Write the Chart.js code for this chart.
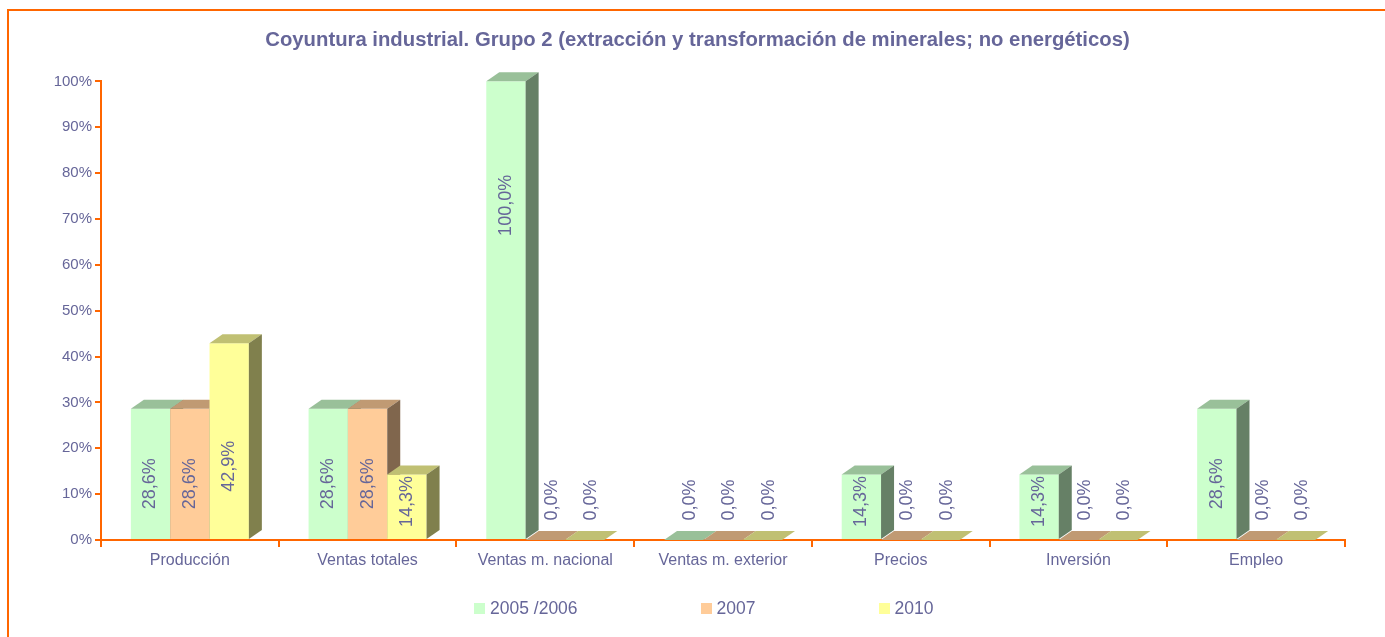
<!DOCTYPE html>
<html>
<head>
<meta charset="utf-8">
<script src="https://cdn.jsdelivr.net/npm/chart.js@4/dist/chart.umd.min.js"></script>
<style>
  body { margin: 0; background: #fff; overflow: hidden; }
  #wrap { position: relative; width: 1385px; height: 637px; }
  #legend { position: absolute; left: 474px; top: 598px; display: flex; gap: 123px;
    font: 17.5px "Liberation Sans", Arial, sans-serif; color: #666699; }
  #legend .item { display: flex; align-items: center; }
  #legend .box { width: 11px; height: 11px; margin-right: 5px; }
</style>
</head>
<body>
<div id="wrap">
  <canvas id="myChart" width="1385" height="637"></canvas>
  <div id="legend"></div>
</div>
<script>
const categories = ['Producción', 'Ventas totales', 'Ventas m. nacional', 'Ventas m. exterior', 'Precios', 'Inversión', 'Empleo']
const seriesNames = ['2005 /2006', '2007', '2010']
const values2005 = [28.6, 28.6, 100, 0, 14.3, 14.3, 28.6]
const values2007 = [28.6, 28.6, 0, 0, 0, 0, 0]
const values2010 = [42.9, 14.3, 0, 0, 0, 0, 0]
const yTicks = [0, 10, 20, 30, 40, 50, 60, 70, 80, 90, 100]

const frontColors = ['#CCFFCC', '#FFCC99', '#FFFF99']
const topColors = ['#99C099', '#C09A73', '#C0C073']
const sideColors = ['#668066', '#80664D', '#80804D']
const textColor = '#666699'
const orange = '#FF6600'
const fontFamily = '"Liberation Sans", Arial, sans-serif'
const depthX = 13
const depthY = 9

const fmt = v => v.toFixed(1).replace('.', ',') + '%'

function poly(ctx, pts, color) {
  ctx.beginPath()
  ctx.moveTo(pts[0][0], pts[0][1])
  for (let k = 1; k < pts.length; k++) ctx.lineTo(pts[k][0], pts[k][1])
  ctx.closePath()
  ctx.fillStyle = color
  ctx.fill()
}

// draws the bars as 3D blocks plus the rotated value labels
const bars3d = {
  id: 'bars3d',
  beforeDraw(chart) {
    const ctx = chart.ctx
    ctx.save()
    ctx.fillStyle = '#fff'
    ctx.fillRect(0, 0, chart.width, chart.height)
    ctx.strokeStyle = orange
    ctx.lineWidth = 2
    ctx.strokeRect(8, 10, 1500, 800)
    ctx.restore()
  },
  beforeDatasetDraw() {
    return false
  },
  afterDatasetsDraw(chart) {
    const ctx = chart.ctx
    const sets = chart.data.datasets
    ctx.save()
    for (let j = 0; j < chart.data.labels.length; j++) {
      sets.forEach((ds, i) => {
        const bar = chart.getDatasetMeta(i).data[j]
        const p = bar.getProps(['x', 'y', 'base', 'width'], true)
        const l = p.x - p.width / 2
        const r = p.x + p.width / 2
        if (p.base > p.y) {
          ctx.fillStyle = frontColors[i]
          ctx.fillRect(l, p.y, p.width, p.base - p.y)
        }
        poly(ctx, [[l, p.y], [r, p.y], [r + depthX, p.y - depthY], [l + depthX, p.y - depthY]], topColors[i])
        if (p.base > p.y) {
          poly(ctx, [[r, p.y], [r + depthX, p.y - depthY], [r + depthX, p.base - depthY], [r, p.base]], sideColors[i])
        }
      })
    }
    ctx.font = '18px ' + fontFamily
    ctx.fillStyle = textColor
    ctx.textAlign = 'center'
    ctx.textBaseline = 'middle'
    sets.forEach((ds, i) => {
      chart.getDatasetMeta(i).data.forEach((bar, j) => {
        const p = bar.getProps(['x', 'y', 'base'], true)
        const h = p.base - p.y
        const v = ds.data[j]
        let cx = p.x
        let cy
        if (v === 0) {
          cx = p.x + depthX / 2
          cy = p.base - 40
        } else {
          cy = Math.min(p.base - 20 - 0.27 * h, p.y + 124)
        }
        ctx.save()
        ctx.translate(cx, cy)
        ctx.rotate(-Math.PI / 2)
        ctx.fillText(fmt(v), 0, 0)
        ctx.restore()
      })
    })
    ctx.restore()
  },
  afterUpdate(chart) {
    const box = document.getElementById('legend')
    box.innerHTML = ''
    chart.data.datasets.forEach((ds, i) => {
      const item = document.createElement('div')
      item.className = 'item'
      const sw = document.createElement('span')
      sw.className = 'box'
      sw.style.background = frontColors[i]
      const tx = document.createElement('span')
      tx.textContent = ds.label
      item.appendChild(sw)
      item.appendChild(tx)
      box.appendChild(item)
    })
  }
}

const ctx = document.getElementById('myChart')

new Chart(ctx, {
  type: 'bar',
  data: {
    labels: categories,
    datasets: [
      { label: seriesNames[0], data: values2005, backgroundColor: frontColors[0] },
      { label: seriesNames[1], data: values2007, backgroundColor: frontColors[1] },
      { label: seriesNames[2], data: values2010, backgroundColor: frontColors[2] }
    ]
  },
  options: {
    responsive: false,
    animation: false,
    barPercentage: 1,
    categoryPercentage: 0.664,
    layout: { padding: { left: 50, right: 40, top: 0, bottom: 67 } },
    plugins: {
      legend: { display: false },
      tooltip: { enabled: false },
      title: {
        display: true,
        text: 'Coyuntura industrial. Grupo 2 (extracción y transformación de minerales; no energéticos)',
        color: textColor,
        font: { family: fontFamily, size: 20.3, weight: 'bold' },
        padding: { top: 28, bottom: 29 }
      }
    },
    scales: {
      x: {
        afterFit(scale) { scale.height = 30 },
        grid: { drawOnChartArea: false, color: orange, lineWidth: 2, tickLength: 7, offset: true },
        border: { color: orange, width: 2 },
        ticks: { color: textColor, padding: 4, font: { family: fontFamily, size: 16 } }
      },
      y: {
        min: 0,
        max: 100,
        afterFit(scale) { scale.width = 51 },
        afterBuildTicks(scale) { scale.ticks = yTicks.map(v => ({ value: v })) },
        grid: { drawOnChartArea: false, color: orange, lineWidth: 2, tickLength: 6 },
        border: { color: orange, width: 2 },
        ticks: {
          color: textColor,
          padding: 3,
          font: { family: fontFamily, size: 15 },
          callback: v => v + '%'
        }
      }
    }
  },
  plugins: [bars3d]
})
</script>
</body>
</html>
